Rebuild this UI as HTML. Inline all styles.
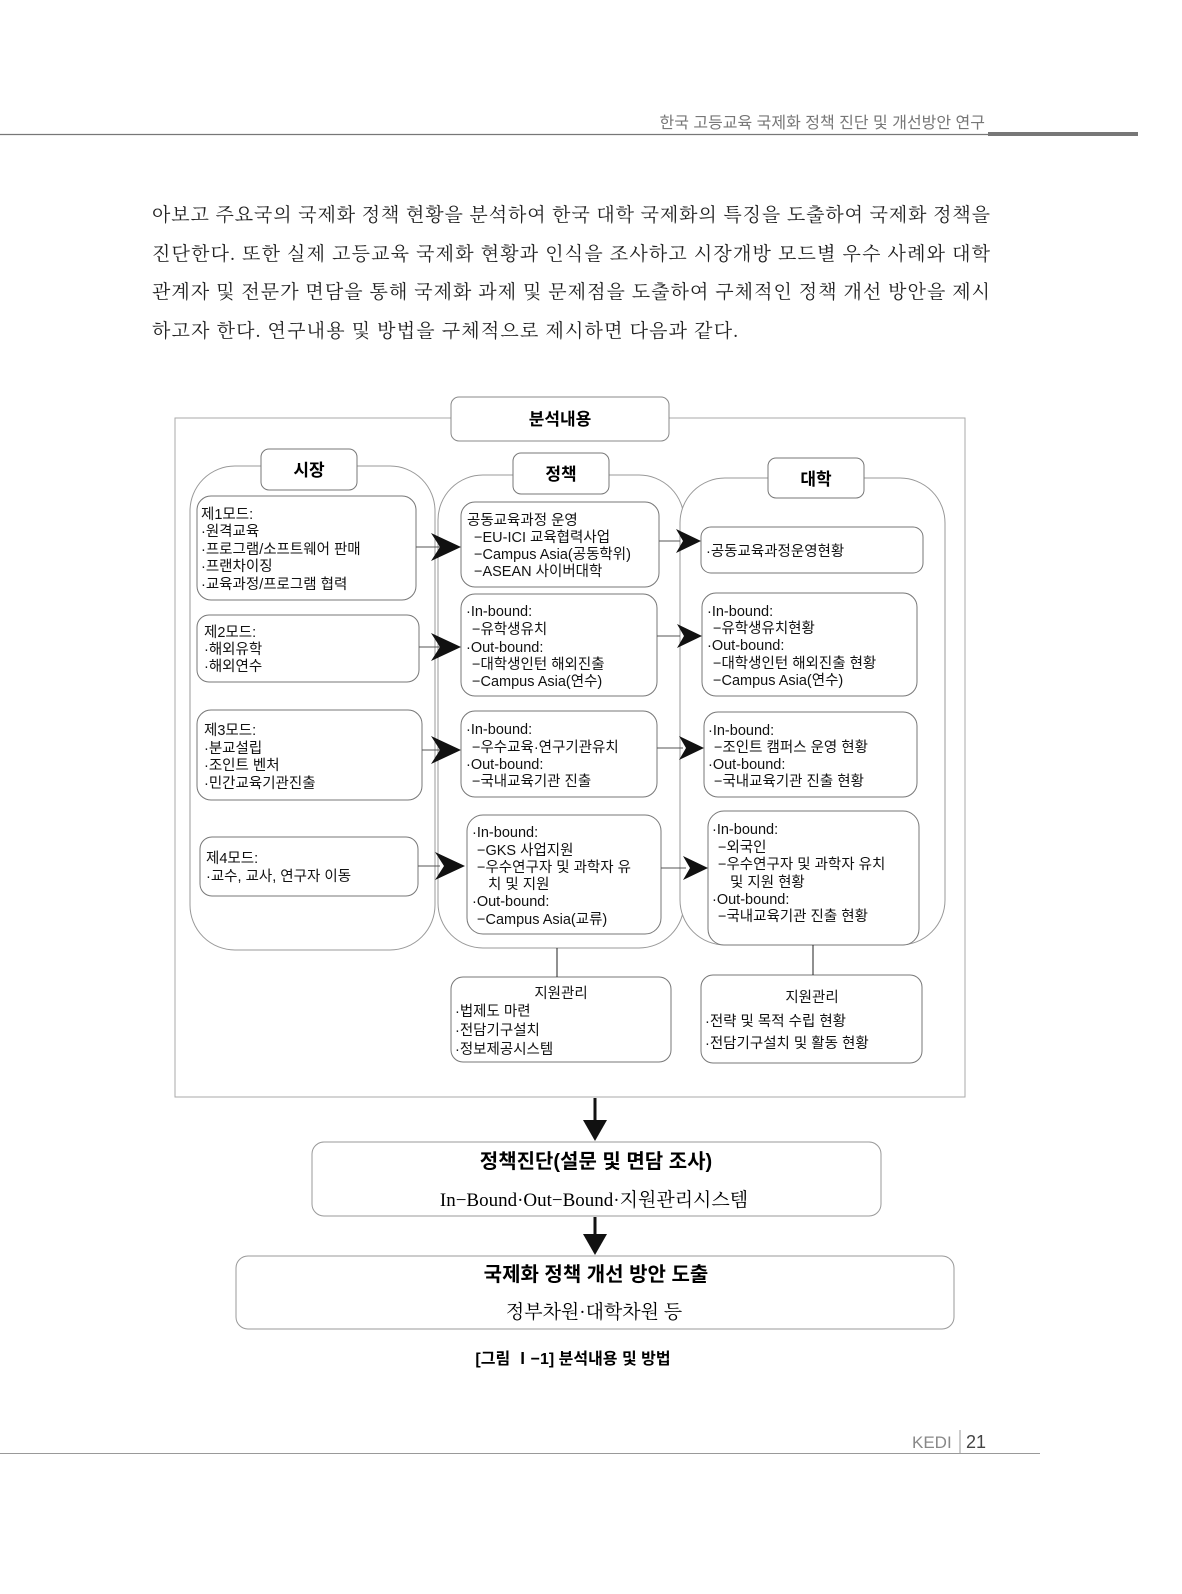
<!DOCTYPE html>
<html><head><meta charset="utf-8">
<style>
html,body{margin:0;padding:0;background:#fff;}
svg{display:block;}
.s{font-family:"Liberation Sans","Noto Sans CJK KR",sans-serif;}
.r{font-family:"Liberation Serif","Noto Serif CJK SC",serif;}
</style></head><body>
<svg width="1182" height="1594" viewBox="0 0 1182 1594" xmlns="http://www.w3.org/2000/svg">
<!-- header -->
<text class="s" x="985" y="128" text-anchor="end" font-size="16" fill="#777">한국 고등교육 국제화 정책 진단 및 개선방안 연구</text>
<line x1="0" y1="134.5" x2="988" y2="134.5" stroke="#777" stroke-width="1.2"/>
<rect x="988" y="132" width="150" height="4" fill="#777"/>
<!-- paragraph -->
<g class="r" font-size="19" fill="#222">
<text x="152" y="221" textLength="838" lengthAdjust="spacing">아보고 주요국의 국제화 정책 현황을 분석하여 한국 대학 국제화의 특징을 도출하여 국제화 정책을</text>
<text x="152" y="260" textLength="838" lengthAdjust="spacing">진단한다. 또한 실제 고등교육 국제화 현황과 인식을 조사하고 시장개방 모드별 우수 사례와 대학</text>
<text x="152" y="298" textLength="838" lengthAdjust="spacing">관계자 및 전문가 면담을 통해 국제화 과제 및 문제점을 도출하여 구체적인 정책 개선 방안을 제시</text>
<text x="152" y="337" textLength="586" lengthAdjust="spacing">하고자 한다. 연구내용 및 방법을 구체적으로 제시하면 다음과 같다.</text>
</g>
<!-- outer frame -->
<rect x="175" y="418" width="790" height="679" fill="none" stroke="#aaa" stroke-width="1"/>
<rect x="451" y="397" width="218" height="44" rx="8" fill="#fff" stroke="#888"/>
<text class="s" x="560" y="425" text-anchor="middle" font-size="17" font-weight="bold">분석내용</text>
<!-- columns -->
<g fill="#fff" stroke="#999" stroke-width="1">
<rect x="190" y="466" width="245" height="484" rx="45"/>
<rect x="438" y="475" width="246" height="473" rx="45"/>
<rect x="680" y="478" width="265" height="467" rx="45"/>
</g>
<g fill="#fff" stroke="#777" stroke-width="1">
<rect x="261" y="449" width="96" height="41" rx="8"/>
<rect x="513" y="453" width="96" height="41" rx="8"/>
<rect x="768" y="458" width="96" height="40" rx="8"/>
</g>
<g class="s" font-size="17" font-weight="bold" text-anchor="middle">
<text x="309" y="476">시장</text><text x="561" y="480">정책</text><text x="816" y="485">대학</text>
</g>
<!-- inner boxes -->
<g fill="#fff" stroke="#777" stroke-width="1">
<rect x="197" y="496" width="219" height="104" rx="14"/>
<rect x="197" y="615" width="222" height="67" rx="12"/>
<rect x="197" y="710" width="225" height="90" rx="14"/>
<rect x="200" y="837" width="218" height="59" rx="12"/>
<rect x="461" y="502" width="198" height="85" rx="14"/>
<rect x="461" y="594" width="196" height="102" rx="14"/>
<rect x="461" y="711" width="196" height="86" rx="14"/>
<rect x="467" y="815" width="194" height="119" rx="16"/>
<rect x="701" y="527" width="222" height="46" rx="10"/>
<rect x="702" y="593" width="215" height="103" rx="14"/>
<rect x="704" y="712" width="213" height="85" rx="14"/>
<rect x="708" y="811" width="211" height="134" rx="16"/>
<rect x="451" y="977" width="220" height="85" rx="12"/>
<rect x="701" y="975" width="221" height="88" rx="12"/>
</g>
<line x1="557" y1="948" x2="557" y2="977" stroke="#222"/>
<line x1="813" y1="945" x2="813" y2="975" stroke="#222"/>
<!-- arrows -->
<g stroke="#555" stroke-width="1">
<line x1="416" y1="547" x2="440" y2="547"/><line x1="419" y1="647" x2="440" y2="647"/>
<line x1="422" y1="750" x2="440" y2="750"/><line x1="418" y1="866" x2="440" y2="866"/>
<line x1="659" y1="541" x2="680" y2="541"/><line x1="657" y1="636" x2="680" y2="636"/>
<line x1="657" y1="748" x2="683" y2="748"/><line x1="661" y1="868" x2="686" y2="868"/>
</g>
<g fill="#111">
<polygon points="461,547 431,533 440,547 431,561"/>
<polygon points="461,647 431,633 440,647 431,661"/>
<polygon points="461,750 431,736 440,750 431,764"/>
<polygon points="465,866 435,852 444,866 435,880"/>
<polygon points="701,541 676,529 683,541 676,553"/>
<polygon points="702,636 677,624 684,636 677,648"/>
<polygon points="704,748 679,736 686,748 679,760"/>
<polygon points="708,868 683,856 690,868 683,880"/>
</g>
<!-- texts -->
<g class="s" font-size="14.5" fill="#111">
<text x="201" y="519">제1모드:</text><text x="201" y="536">·원격교육</text><text x="201" y="554">·프로그램/소프트웨어 판매</text><text x="201" y="571">·프랜차이징</text><text x="201" y="589">·교육과정/프로그램 협력</text>
<text x="204" y="637">제2모드:</text><text x="204" y="654">·해외유학</text><text x="204" y="671">·해외연수</text>
<text x="204" y="735">제3모드:</text><text x="204" y="753">·분교설립</text><text x="204" y="770">·조인트 벤처</text><text x="204" y="788">·민간교육기관진출</text>
<text x="206" y="863">제4모드:</text><text x="206" y="881">·교수, 교사, 연구자 이동</text>
<text x="467" y="525">공동교육과정 운영</text><text x="474" y="542">−EU-ICI 교육협력사업</text><text x="474" y="559">−Campus Asia(공동학위)</text><text x="474" y="576">−ASEAN 사이버대학</text>
<text x="466" y="616">·In-bound:</text><text x="472" y="634">−유학생유치</text><text x="466" y="652">·Out-bound:</text><text x="472" y="669">−대학생인턴 해외진출</text><text x="472" y="686">−Campus Asia(연수)</text>
<text x="466" y="734">·In-bound:</text><text x="472" y="752">−우수교육·연구기관유치</text><text x="466" y="769">·Out-bound:</text><text x="472" y="786">−국내교육기관 진출</text>
<text x="472" y="837">·In-bound:</text><text x="477" y="855">−GKS 사업지원</text><text x="477" y="872">−우수연구자 및 과학자 유</text><text x="488" y="889">치 및 지원</text><text x="472" y="906">·Out-bound:</text><text x="477" y="924">−Campus Asia(교류)</text>
<text x="706" y="556">·공동교육과정운영현황</text>
<text x="707" y="616">·In-bound:</text><text x="713" y="633">−유학생유치현황</text><text x="707" y="650">·Out-bound:</text><text x="713" y="668">−대학생인턴 해외진출 현황</text><text x="713" y="685">−Campus Asia(연수)</text>
<text x="708" y="735">·In-bound:</text><text x="714" y="752">−조인트 캠퍼스 운영 현황</text><text x="708" y="769">·Out-bound:</text><text x="714" y="786">−국내교육기관 진출 현황</text>
<text x="712" y="834">·In-bound:</text><text x="718" y="852">−외국인</text><text x="718" y="869">−우수연구자 및 과학자 유치</text><text x="730" y="887">및 지원 현황</text><text x="712" y="904">·Out-bound:</text><text x="718" y="921">−국내교육기관 진출 현황</text>
<text x="561" y="998" text-anchor="middle">지원관리</text><text x="455" y="1016">·법제도 마련</text><text x="455" y="1035">·전담기구설치</text><text x="455" y="1054">·정보제공시스템</text>
<text x="812" y="1002" text-anchor="middle">지원관리</text><text x="705" y="1026">·전략 및 목적 수립 현황</text><text x="705" y="1048">·전담기구설치 및 활동 현황</text>
</g>
<!-- bottom flow -->
<line x1="595" y1="1098" x2="595" y2="1122" stroke="#111" stroke-width="3"/>
<polygon points="583,1120 607,1120 595,1141" fill="#111"/>
<rect x="312" y="1142" width="569" height="74" rx="12" fill="#fff" stroke="#999"/>
<text class="s" x="596" y="1168" text-anchor="middle" font-size="20" font-weight="bold">정책진단(설문 및 면담 조사)</text>
<text class="r" x="594" y="1206" text-anchor="middle" font-size="19">In−Bound·Out−Bound·지원관리시스템</text>
<line x1="595" y1="1217" x2="595" y2="1236" stroke="#111" stroke-width="3"/>
<polygon points="583,1234 607,1234 595,1255" fill="#111"/>
<rect x="236" y="1256" width="718" height="73" rx="12" fill="#fff" stroke="#999"/>
<text class="s" x="596" y="1281" text-anchor="middle" font-size="20" font-weight="bold">국제화 정책 개선 방안 도출</text>
<text class="r" x="594" y="1318" text-anchor="middle" font-size="19">정부차원·대학차원 등</text>
<text class="s" x="573" y="1364" text-anchor="middle" font-size="16" font-weight="bold">[그림 Ⅰ−1] 분석내용 및 방법</text>
<!-- footer -->
<line x1="0" y1="1453.5" x2="1040" y2="1453.5" stroke="#999" stroke-width="1"/>
<text class="s" x="912" y="1448" font-size="17" fill="#888">KEDI</text>
<line x1="960" y1="1430" x2="960" y2="1453" stroke="#999"/>
<text class="s" x="966" y="1448" font-size="18" fill="#444">21</text>
</svg>
</body></html>
